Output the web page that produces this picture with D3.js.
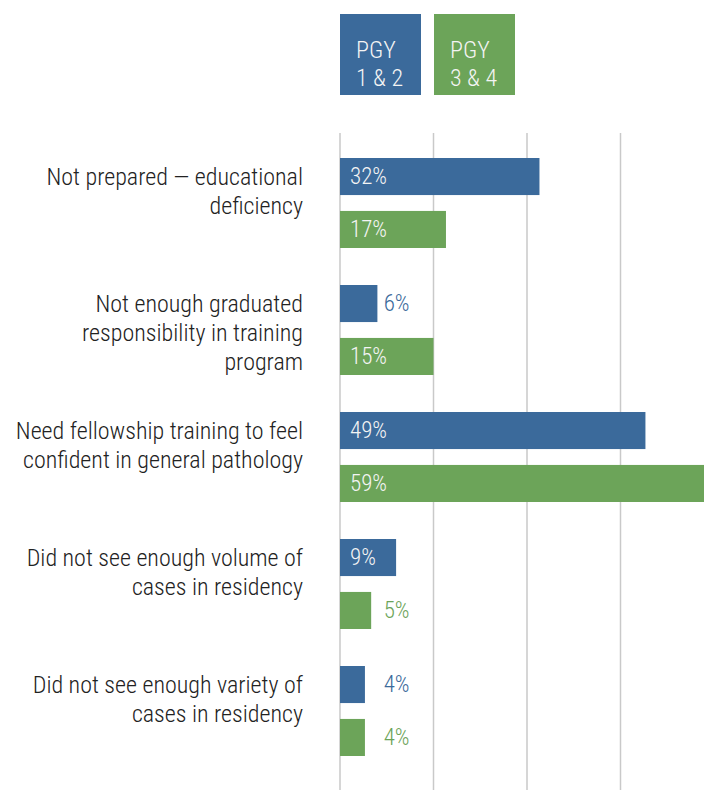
<!DOCTYPE html>
<html>
<head>
<meta charset="utf-8">
<script src="https://cdn.jsdelivr.net/npm/d3@7"></script>
<style>
  html, body { margin: 0; padding: 0; background: #fff; }
  svg { display: block; }
  text { font-family: "Roboto Condensed", "Roboto", sans-serif; font-weight: 300; }
</style>
</head>
<body>
<svg id="chart" width="704" height="798"></svg>
<script>
// Survey categories (each label split into display lines)
const categories = [
  ["Not prepared — educational", "deficiency"],
  ["Not enough graduated", "responsibility in training", "program"],
  ["Need fellowship training to feel", "confident in general pathology"],
  ["Did not see enough volume of", "cases in residency"],
  ["Did not see enough variety of", "cases in residency"]
];
const seriesNames = ["PGY 1 & 2", "PGY 3 & 4"];
const legendLines = [["PGY", "1 & 2"], ["PGY", "3 & 4"]];
const pgy12 = [32, 6, 49, 9, 4];
const pgy34 = [17, 15, 59, 5, 4];
const gridTicks = [0, 15, 30, 45, 60];

const colors = ["#3b6a9b", "#6ca459"];
const svg = d3.select("#chart");

const x = d3.scaleLinear().domain([0, 60]).range([340, 714]);
const catIdx = d3.range(categories.length);
const y = d3.scaleBand().domain(catIdx).range([158, 158 + 127 * 5]).paddingInner(0).paddingOuter(0);
const ySub = d3.scaleBand().domain([0, 1]).range([0, 90]).paddingInner(0.3).paddingOuter(0);

// vertical gridlines
svg.append("g").selectAll("line").data(gridTicks).join("line")
  .attr("x1", d => x(d)).attr("x2", d => x(d))
  .attr("y1", 133).attr("y2", 790)
  .attr("stroke", "#c9c9c9").attr("stroke-width", 1.5);

// legend swatches
const leg = svg.append("g").selectAll("g").data(seriesNames).join("g")
  .attr("transform", (d, i) => `translate(${340 + i * 94},14)`);
leg.append("rect").attr("width", 81).attr("height", 81).attr("fill", (d, i) => colors[i]);
leg.append("text")
  .attr("y", 44)
  .attr("fill", "#f4f4f4").attr("font-size", 24)
  .selectAll("tspan").data((d, i) => legendLines[i]).join("tspan")
  .attr("x", 16).attr("dy", (d, j) => j === 0 ? 0 : 28)
  .text(d => d);

// bars
const rows = [];
catIdx.forEach(c => {
  rows.push({ c, s: 0, v: pgy12[c] });
  rows.push({ c, s: 1, v: pgy34[c] });
});
const barH = ySub.bandwidth();
svg.append("g").selectAll("rect").data(rows).join("rect")
  .attr("x", x(0))
  .attr("y", d => y(d.c) + ySub(d.s))
  .attr("width", d => x(d.v) - x(0))
  .attr("height", barH)
  .attr("fill", d => colors[d.s]);

// value labels: inside (white) for long bars, outside (series colour) for short ones
svg.append("g").selectAll("text").data(rows).join("text")
  .attr("x", d => d.v >= 8 ? x(0) + 10 : x(7))
  .attr("y", d => y(d.c) + ySub(d.s) + barH / 2)
  .attr("dy", "0.34em")
  .attr("font-size", 23)
  .attr("fill", d => d.v >= 8 ? "#f4f4f4" : colors[d.s])
  .text(d => d.v + "%");

// category labels
svg.append("g").selectAll("text").data(catIdx).join("text")
  .attr("text-anchor", "end")
  .attr("font-size", 24)
  .attr("fill", "#222")
  .attr("y", c => y(c) + ySub(0) + barH / 2)
  .selectAll("tspan").data(c => categories[c]).join("tspan")
  .attr("x", 303)
  .attr("dy", (d, j) => j === 0 ? "0.34em" : 29)
  .text(d => d);
</script>
</body>
</html>
